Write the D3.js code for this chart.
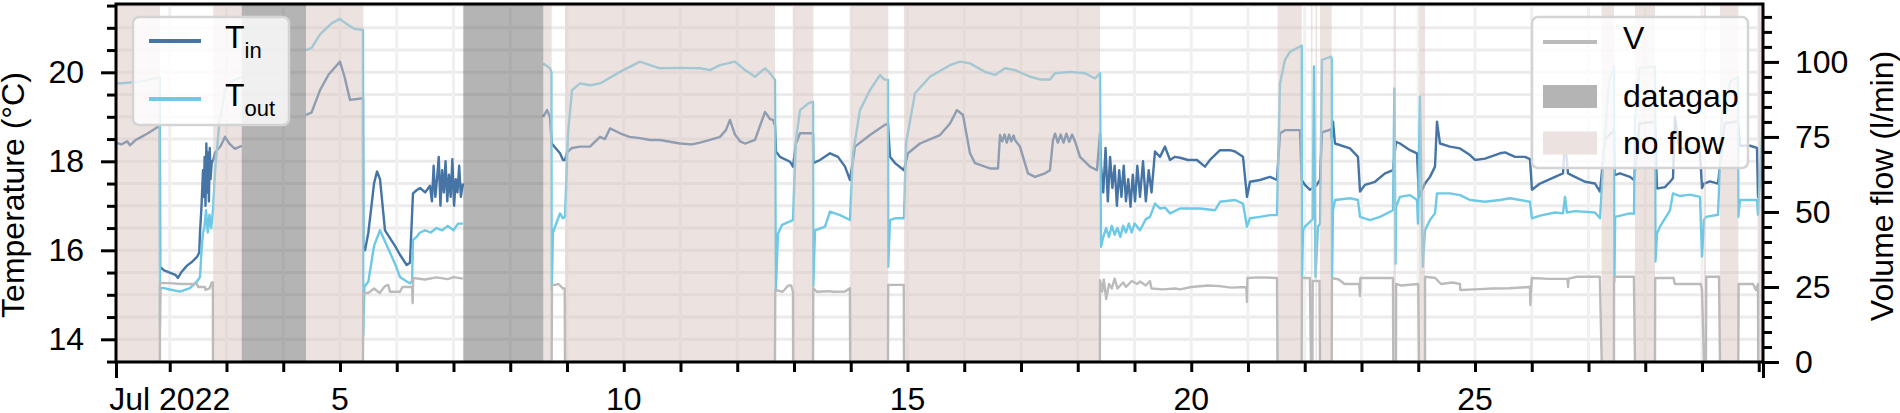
<!DOCTYPE html>
<html>
<head>
<meta charset="utf-8">
<script src="https://cdn.jsdelivr.net/npm/d3@7"></script>
<style>
  body { margin: 0; background: #fff; }
  svg { display: block; font-family: "Liberation Sans", Arial, Helvetica, sans-serif; }
</style>
</head>
<body>
<svg id="chart" width="1900" height="413"></svg>
<script>
// series: [day of July 2022 (decimal), value]; null = no data
const tInData = [
  [1.053,18.42],[1.15,18.38],[1.25,18.45],[1.3,18.36],[1.4,18.48],[1.5,18.55],[1.6,18.62],[1.7,18.7],[1.8,18.78],[1.825,18.82],
  [1.83,15.63],[1.9,15.55],[2.0,15.5],[2.1,15.45],[2.145,15.38],[2.2,15.5],[2.3,15.65],[2.4,15.75],[2.48,15.85],[2.52,15.95],
  [2.533,16.4],[2.56,17.0],[2.586,17.8],[2.6,17.2],[2.615,18.1],[2.63,17.0],[2.645,18.4],[2.66,17.3],[2.675,18.2],[2.69,17.1],[2.705,18.3],[2.72,17.6],[2.74,18.0],[2.762,18.0],
  [2.8,18.2],[2.9,18.35],[2.974,18.55],[3.05,18.4],[3.15,18.28],[3.268,18.35],
  [3.3,null],
  [4.401,19.04],[4.5,19.1],[4.648,19.6],[4.8,19.95],[5.0,20.24],[5.08,19.9],[5.176,19.38],[5.3,19.4],[5.405,19.42],
  [5.41,16.08],[5.441,16.0],[5.5,16.4],[5.6,17.5],[5.652,17.77],[5.705,17.6],[5.793,16.45],[5.969,16.1],[6.057,15.9],[6.175,15.67],[6.233,15.72],
  [6.286,17.28],[6.35,17.35],[6.41,17.4],[6.5,17.3],
  [6.586,17.45],[6.62,17.1],[6.65,17.9],[6.68,17.2],[6.71,17.6],[6.74,18.1],[6.77,17.0],[6.8,17.8],[6.83,17.3],[6.86,18.0],[6.89,17.1],[6.92,17.7],[6.95,17.2],[6.98,18.05],[7.01,17.0],[7.04,17.6],[7.07,17.3],[7.1,17.9],[7.13,17.2],[7.167,17.5],
  [7.2,null],
  [8.582,19.0],[8.648,19.15],[8.7,19.0],[8.73,18.4],[8.877,18.18],[8.93,18.03],[8.965,18.03],[9.0,18.2],[9.088,18.3],[9.229,18.33],[9.405,18.33],[9.581,18.55],[9.67,18.5],[9.758,18.74],[9.934,18.63],
  [10.1,18.55],[10.286,18.52],[10.463,18.48],[10.639,18.48],[10.991,18.4],[11.2,18.38],[11.344,18.42],[11.52,18.48],[11.696,18.55],[11.8,18.7],[11.872,18.93],[11.96,18.6],[12.05,18.45],[12.137,18.4],[12.313,18.48],[12.489,19.11],[12.577,18.95],[12.63,18.93],[12.665,18.8],
  [12.683,18.22],[12.753,18.1],[12.93,17.99],[12.982,17.88],
  [13.035,18.4],[13.106,18.63],[13.335,18.63],
  [13.34,17.96],[13.458,18.03],[13.634,18.18],[13.775,18.1],[13.899,17.88],[13.987,17.58],
  [14.075,18.33],[14.339,18.59],[14.604,18.82],[14.656,18.85],
  [14.692,18.1],[14.78,17.96],[14.938,17.8],
  [15.009,18.18],[15.22,18.4],[15.573,18.59],[15.749,18.85],[15.872,19.15],[15.978,19.04],[16.101,18.18],[16.189,17.96],[16.454,17.84],[16.595,17.84],
  [16.63,18.59],[16.67,18.45],[16.71,18.6],[16.75,18.42],[16.79,18.6],[16.83,18.45],[16.87,18.58],[16.894,18.48],[16.982,18.33],[17.123,17.73],[17.247,17.65],[17.423,17.73],[17.511,17.8],
  [17.564,18.48],[17.6,18.62],[17.65,18.42],[17.7,18.6],[17.75,18.42],[17.8,18.62],[17.85,18.44],[17.9,18.6],[17.952,18.45],[18.04,18.1],[18.216,17.88],[18.339,17.8],[18.392,18.63],
  [18.41,17.9],[18.45,17.3],[18.49,18.3],[18.53,17.1],[18.57,18.1],[18.61,17.4],[18.65,17.9],[18.69,17.0],[18.73,17.8],[18.77,17.2],[18.81,17.9],[18.85,17.1],[18.89,17.6],[18.93,16.98],[18.97,17.7],[19.01,17.1],[19.05,17.9],[19.097,17.2],[19.15,18.0],[19.2,17.1],[19.25,17.8],[19.3,17.3],
  [19.361,18.22],[19.449,18.1],[19.537,18.33],[19.626,18.03],[19.714,18.1],[19.802,18.08],[19.943,18.03],[20.101,18.03],[20.242,17.88],[20.33,18.03],[20.507,18.25],[20.683,18.25],[20.771,18.22],[20.912,18.1],
  [20.982,17.2],[21.035,17.54],[21.211,17.58],[21.388,17.65],[21.511,17.58],
  [21.564,18.63],[21.652,18.7],[21.916,18.7],[21.946,17.58],[22.004,17.47],[22.093,17.36],[22.2,17.45],[22.269,17.58],[22.304,18.65],[22.463,18.72],[22.475,18.5],[22.498,18.89],[22.533,18.4],[22.797,18.29],[22.938,18.1],
  [22.974,17.32],[23.062,17.47],[23.238,17.54],[23.414,17.73],[23.555,17.8],[23.608,18.44],[23.678,18.4],[23.855,18.25],[23.978,18.18],[24.013,17.2],[24.119,17.5],[24.207,17.65],[24.295,17.88],
  [24.33,18.89],[24.383,18.4],[24.559,18.33],[24.736,18.29],[24.912,18.14],[25.0,18.03],[25.176,18.06],[25.441,18.18],[25.529,18.2],[25.705,18.1],[25.881,18.1],[25.969,18.05],
  [26.004,17.36],[26.145,17.5],[26.41,17.65],[26.551,17.73],[26.586,18.48],[26.639,17.73],[26.762,17.65],[26.938,17.54],[27.115,17.5],[27.203,17.32],
  [27.291,18.5],[27.449,18.7],[27.46,17.69],[27.555,17.73],[27.731,17.65],[27.802,17.58],[27.9,18.85],[28.172,18.89],
  [28.207,17.39],[28.348,17.42],[28.436,17.54],[28.489,17.62],[28.524,19.0],[28.6,18.3],[28.789,18.25],[28.965,18.2],[29.0,17.4],[29.035,17.5],[29.141,17.55],[29.282,17.5],
  [29.4,18.85],[29.634,18.9],[29.67,18.35],[29.846,18.35],[29.969,18.3],[29.987,17.2],[30.075,18.0]
];

const tOutData = [
  [1.053,19.75],[1.2,19.76],[1.4,19.78],[1.6,19.82],[1.74,19.87],[1.825,19.88],
  [1.828,14.3],[1.835,15.15],[1.9,15.15],[2.0,15.12],[2.181,15.07],[2.357,15.15],[2.48,15.3],[2.533,15.4],[2.56,16.0],[2.586,16.4],[2.61,16.5],[2.64,16.9],[2.67,16.4],[2.7,16.8],[2.73,16.5],[2.762,16.9],
  [2.8,17.8],[2.87,18.8],[2.974,19.6],[3.1,19.8],[3.268,19.9],
  [3.3,null],
  [4.401,20.5],[4.5,20.55],[4.648,20.85],[4.85,21.1],[5.0,21.2],[5.1,21.1],[5.25,20.98],[5.405,20.95],
  [5.41,14.1],[5.43,15.18],[5.5,15.3],[5.6,16.1],[5.705,16.45],[5.793,16.2],[5.969,15.7],[6.057,15.4],[6.175,15.3],[6.233,15.26],[6.27,15.3],
  [6.286,16.23],[6.35,16.3],[6.41,16.4],[6.5,16.45],[6.6,16.4],[6.7,16.5],[6.8,16.45],[6.9,16.55],[7.0,16.45],[7.08,16.6],[7.167,16.6],
  [7.2,null],
  [8.582,20.2],[8.7,20.09],[8.725,20.0],[8.73,15.1],[8.753,16.4],[8.877,16.83],[8.93,16.72],[8.965,16.75],[9.018,18.63],[9.088,19.6],[9.229,19.75],[9.405,19.71],[9.581,19.75],[9.934,20.01],
  [10.286,20.24],[10.463,20.16],[10.639,20.09],[10.991,20.1],[11.344,20.09],[11.52,20.05],[11.696,20.16],[11.96,20.24],[12.137,20.05],[12.313,19.9],[12.489,20.09],[12.577,19.98],[12.665,19.83],
  [12.68,15.1],[12.718,16.38],[12.789,16.57],[12.982,16.68],
  [13.035,18.48],[13.106,19.15],[13.25,19.3],[13.335,19.34],
  [13.34,15.2],[13.37,16.45],[13.546,16.53],[13.634,16.87],[13.811,16.79],[13.987,16.68],
  [14.04,18.18],[14.163,19.15],[14.339,19.6],[14.515,19.94],[14.586,19.84],[14.656,19.83],
  [14.66,15.63],[14.692,16.68],[14.78,16.72],[14.938,16.72],
  [14.974,18.4],[15.132,19.53],[15.396,19.9],[15.749,20.16],[15.925,20.24],[16.101,20.2],[16.366,20.01],[16.542,19.94],[16.718,20.09],[16.894,20.05],[17.159,19.9],[17.335,19.84],[17.511,19.84],[17.599,19.98],[17.863,20.01],[18.128,19.98],[18.304,19.86],[18.392,19.98],
  [18.41,16.08],[18.45,16.3],[18.5,16.5],[18.55,16.3],[18.6,16.55],[18.65,16.35],[18.7,16.5],[18.75,16.3],[18.8,16.55],[18.85,16.4],[18.9,16.6],[18.95,16.4],[19.0,16.6],[19.097,16.45],[19.2,16.7],[19.273,16.75],
  [19.361,17.05],[19.449,16.94],[19.537,16.96],[19.626,16.83],[19.802,16.94],[20.154,16.94],[20.419,16.9],[20.507,17.09],[20.771,17.13],[20.912,17.05],
  [20.982,16.53],[21.035,16.72],[21.211,16.75],[21.388,16.79],[21.511,16.79],
  [21.564,19.75],[21.652,20.28],[21.74,20.46],[21.916,20.58],[21.946,20.6],[21.95,15.4],[21.97,16.45],[22.004,16.53],[22.093,16.64],[22.14,16.7],[22.163,20.13],[22.19,15.4],[22.233,16.53],[22.269,16.6],
  [22.304,20.28],[22.463,20.35],[22.475,20.3],[22.48,15.4],[22.498,16.9],[22.533,17.13],[22.797,17.17],[22.938,17.13],
  [22.974,16.75],[23.15,16.68],[23.326,16.75],[23.555,16.9],[23.58,19.64],[23.6,15.7],[23.608,16.98],[23.678,17.2],[23.855,17.24],[23.978,17.13],[23.996,16.6],[24.03,19.45],[24.08,15.63],
  [24.119,16.45],[24.207,16.68],[24.295,16.83],[24.33,17.28],[24.559,17.28],[24.736,17.24],[24.912,17.13],[25.176,17.09],[25.441,17.13],[25.617,17.17],[25.969,17.09],
  [26.004,16.72],[26.145,16.78],[26.41,16.85],[26.551,16.83],[26.586,17.2],[26.62,16.85],[26.762,16.88],[27.115,16.85],[27.203,16.72],
  [27.291,18.6],[27.36,19.8],[27.449,20.13],[27.455,15.3],[27.47,16.75],[27.731,16.83],[27.802,16.82],
  [27.819,18.9],[27.9,20.1],[28.172,20.13],[28.18,15.75],[28.207,16.38],[28.26,16.53],[28.436,16.9],[28.489,17.28],[28.612,17.22],[28.789,17.25],[28.965,17.2],
  [29.0,15.86],[29.035,16.68],[29.07,16.75],[29.282,16.8],[29.35,19.0],[29.5,19.8],[29.634,19.9],[29.64,16.75],[29.67,17.13],[29.846,17.13],[29.969,17.13],[29.987,16.8],[30.075,19.0]
];

const flowData = [
  [1.053,0],[1.826,0],[1.828,26.3],[2.0,26.3],[2.2,26.0],[2.48,26.0],[2.5,25.0],[2.62,25.0],[2.63,24.0],[2.7,24.5],[2.74,26.5],[2.76,26.5],[2.762,0],[3.268,0],
  [3.3,null],
  [4.401,0],[5.405,0],[5.41,23.0],[5.5,23.0],[5.6,24.5],[5.7,23.0],[5.793,25.3],[5.85,25.7],[5.88,23.4],[6.057,23.4],[6.1,25.0],[6.27,25.0],[6.28,19.6],[6.29,28.0],[6.5,27.5],[6.7,28.2],[6.9,27.6],[7.0,28.3],[7.167,27.8],
  [7.2,null],
  [8.582,0],[8.73,0],[8.735,25.7],[8.8,25.7],[8.85,26.0],[8.93,24.5],[8.96,24.5],[8.965,0],[12.665,0],
  [12.67,24.0],[12.8,23.4],[12.9,25.5],[12.95,25.5],[12.982,23.4],[12.985,0],[13.335,0],
  [13.34,24.6],[13.4,23.4],[13.6,23.6],[13.7,23.4],[13.9,23.5],[13.985,24.6],[13.99,0],[14.656,0],
  [14.66,25.7],[14.935,25.7],[14.938,0],[18.39,0],
  [18.392,27.3],[18.43,23.5],[18.46,27.5],[18.5,21.0],[18.55,26.0],[18.6,24.5],[18.65,27.8],[18.7,24.5],[18.8,26.5],[18.85,25.0],[18.95,27.0],[19.05,26.0],[19.097,26.8],[19.2,25.5],[19.273,27.0],[19.3,24.5],
  [19.5,24.2],[19.714,24.5],[19.802,24.2],[20.0,25.0],[20.3,25.5],[20.5,25.3],[20.7,24.8],[20.97,25.0],[20.982,20.0],[20.99,28.0],[21.2,28.2],[21.511,28.0],[21.52,0],[21.946,0],
  [21.95,28.0],[22.09,28.0],[22.11,0],[22.136,0],[22.14,27.0],[22.26,27.0],[22.269,0],[22.475,0],
  [22.48,28.0],[22.6,27.5],[22.7,26.0],[22.96,26.0],[22.974,22.0],[22.98,28.0],[23.555,28.0],[23.56,0],[23.608,0],
  [23.61,26.0],[23.7,25.5],[24.0,26.0],[24.013,0],[24.119,0],
  [24.12,28.4],[24.3,28.0],[24.4,26.0],[24.6,26.5],[24.736,26.0],[24.74,24.0],[25.0,24.2],[25.3,24.5],[25.6,24.6],[25.969,25.0],[25.975,19.0],[26.0,28.0],[26.3,27.7],[26.63,27.7],[26.64,25.0],[26.65,27.8],[26.8,28.4],[27.2,28.4],[27.233,0],[27.449,0],
  [27.45,28.4],[27.8,28.4],[27.819,0],[28.172,0],
  [28.175,28.0],[28.5,28.0],[28.52,26.0],[28.98,26.0],[29.0,24.0],[29.035,0],[29.07,0],
  [29.075,28.4],[29.3,28.4],[29.317,0],[29.64,0],[29.645,26.0],[29.9,26.0],[29.95,24.0],[29.987,26.0],[29.99,0],[30.075,0]
];

// shaded periods [start day, end day]
const noFlowSpans = [
  [1.053,1.828],[2.767,3.268],[4.401,5.411],[8.582,8.73],[8.965,12.665],[12.988,13.341],[13.999,14.662],[14.938,18.392],
  [21.523,21.946],[22.11,22.136],[22.189,22.216],[22.269,22.475],[23.564,23.608],[24.019,24.119],
  [27.232,27.449],[27.819,28.172],[29.035,29.07],[29.317,29.64],[29.991,30.075]
];
const dataGapSpans = [[3.268,4.401],[7.173,8.582]];

const tempTicks = [14, 16, 18, 20];
const flowTicks = [0, 25, 50, 75, 100];
const dayLabelDays = [2, 5, 10, 15, 20, 25];
const dayLabels = ["Jul 2022", "5", "10", "15", "20", "25"];

const tempLegend = [{ name: "T", sub: "in", color: "#4574a5" }, { name: "T", sub: "out", color: "#6dc9e6" }];
const flowLegend = [{ name: "V", kind: "line" }, { name: "datagap", kind: "gap" }, { name: "no flow", kind: "noflow" }];

// --- layout ---
const pL = 116, pR = 1763, pT = 4, pB = 362;
const colIn = "#4574a5", colOut = "#6dc9e6", colV = "#bbbbbb";
const DAY0 = new Date(2022, 6, 1).getTime();
const toDate = d => new Date(DAY0 + (d - 1) * 864e5);

const svg = d3.select("#chart");

const x = d3.scaleTime().domain([toDate(1.053), toDate(30.075)]).range([pL, pR]);
const yT = d3.scaleLinear().domain([13.49, 21.535]).range([pB, pT]);
const yV = d3.scaleLinear().domain([0, 119.3]).range([pB, pT]);

svg.append("defs").append("clipPath").attr("id", "plot")
  .append("rect").attr("x", pL).attr("y", pT).attr("width", pR - pL).attr("height", pB - pT);

// grid
const grid = svg.append("g").attr("clip-path", "url(#plot)");
grid.selectAll(".hg").data(d3.range(13.5, 21.6, 0.5)).enter().append("line")
  .attr("x1", pL).attr("x2", pR)
  .attr("y1", d => yT(d)).attr("y2", d => yT(d))
  .attr("stroke", "#ebebeb").attr("stroke-width", 3);
const dayTicks = d3.timeDay.range(toDate(2), toDate(30.5));
grid.selectAll(".vg").data(dayTicks).enter().append("line")
  .attr("x1", d => x(d)).attr("x2", d => x(d))
  .attr("y1", pT).attr("y2", pB)
  .attr("stroke", "#f0f0f0").attr("stroke-width", 3);

// temperature lines
const plot = svg.append("g").attr("clip-path", "url(#plot)");
const lineT = d3.line().defined(d => d[1] !== null).x(d => x(toDate(d[0]))).y(d => yT(d[1]));
plot.append("path").datum(tInData).attr("d", lineT)
  .attr("fill", "none").attr("stroke", colIn).attr("stroke-width", 2.4).attr("stroke-linejoin", "round");
plot.append("path").datum(tOutData).attr("d", lineT)
  .attr("fill", "none").attr("stroke", colOut).attr("stroke-width", 2.4).attr("stroke-linejoin", "round");

// shading on top
plot.selectAll(".nf").data(noFlowSpans).enter().append("rect")
  .attr("x", d => x(toDate(d[0]))).attr("width", d => x(toDate(d[1])) - x(toDate(d[0])))
  .attr("y", pT).attr("height", pB - pT)
  .attr("fill", "#d9c6bf").attr("fill-opacity", 0.5);
plot.selectAll(".dg").data(dataGapSpans).enter().append("rect")
  .attr("x", d => x(toDate(d[0]))).attr("width", d => x(toDate(d[1])) - x(toDate(d[0])))
  .attr("y", pT).attr("height", pB - pT)
  .attr("fill", "#6a6a6a").attr("fill-opacity", 0.5);

// volume flow on twin axis
const lineV = d3.line().defined(d => d[1] !== null).x(d => x(toDate(d[0]))).y(d => yV(d[1]));
plot.append("path").datum(flowData).attr("d", lineV)
  .attr("fill", "none").attr("stroke", colV).attr("stroke-width", 2.4).attr("stroke-linejoin", "round");

// axes
function styleAxis(g) {
  g.select(".domain").remove();
  g.selectAll(".tick line").attr("stroke", "#000").attr("stroke-width", 3);
  g.selectAll(".tick text").attr("fill", "#000").style("font-size", "32px");
}
svg.append("g").attr("transform", `translate(${pL},0)`)
  .call(d3.axisLeft(yT).tickValues(tempTicks).tickSize(15).tickPadding(17))
  .call(styleAxis);
svg.append("g").attr("transform", `translate(${pL},0)`)
  .call(d3.axisLeft(yT).tickValues(d3.range(13.5, 21.6, 0.5).filter(v => v % 2 !== 0)).tickSize(9).tickFormat(""))
  .call(styleAxis);
svg.append("g").attr("transform", `translate(${pR},0)`)
  .call(d3.axisRight(yV).tickValues(flowTicks).tickSize(16).tickPadding(16))
  .call(styleAxis);
svg.append("g").attr("transform", `translate(${pR},0)`)
  .call(d3.axisRight(yV).tickValues(d3.range(5, 119, 5).filter(v => v % 25 !== 0)).tickSize(9).tickFormat(""))
  .call(styleAxis);
svg.append("g").attr("transform", `translate(0,${pB})`)
  .call(d3.axisBottom(x).tickValues(dayTicks).tickSize(10).tickFormat(""))
  .call(styleAxis);
svg.append("g").attr("transform", `translate(0,${pB})`)
  .call(d3.axisBottom(x).tickValues(x.domain()).tickSize(16).tickFormat(""))
  .call(styleAxis);
svg.append("g").selectAll("text").data(dayLabelDays).enter().append("text")
  .attr("x", d => x(toDate(d))).attr("y", 410)
  .attr("text-anchor", "middle").style("font-size", "32px")
  .text((d, i) => dayLabels[i]);

// spines
svg.append("rect").attr("x", pL).attr("y", pT).attr("width", pR - pL).attr("height", pB - pT)
  .attr("fill", "none").attr("stroke", "#000").attr("stroke-width", 3);

// axis titles
svg.append("text").attr("transform", "translate(24,195) rotate(-90)")
  .attr("text-anchor", "middle").style("font-size", "32px").text("Temperature (°C)");
svg.append("text").attr("transform", "translate(1893,186) rotate(-90)")
  .attr("text-anchor", "middle").style("font-size", "32px").text("Volume flow (l/min)");

// legend: temperatures
const lg1 = svg.append("g");
lg1.append("rect").attr("x", 133).attr("y", 17).attr("width", 156).attr("height", 108).attr("rx", 6)
  .attr("fill", "#fff").attr("fill-opacity", 0.8).attr("stroke", "#d4d4d4").attr("stroke-width", 2.5);
tempLegend.forEach((e, i) => {
  const cy = 41 + i * 58;
  lg1.append("line").attr("x1", 149).attr("x2", 201).attr("y1", cy).attr("y2", cy)
    .attr("stroke", e.color).attr("stroke-width", 4);
  const t = lg1.append("text").attr("x", 225).attr("y", cy + 7).style("font-size", "32px");
  t.append("tspan").text(e.name);
  t.append("tspan").attr("dy", 10).style("font-size", "22px").text(e.sub);
});

// legend: flow
const lg2 = svg.append("g");
lg2.append("rect").attr("x", 1532).attr("y", 17).attr("width", 216).attr("height", 151).attr("rx", 6)
  .attr("fill", "#fff").attr("fill-opacity", 0.8).attr("stroke", "#d4d4d4").attr("stroke-width", 2.5);
const rowY = [42, 96.5, 143];
const baseY = [49, 107, 154];
flowLegend.forEach((e, i) => {
  if (e.kind === "line") {
    lg2.append("line").attr("x1", 1543).attr("x2", 1597).attr("y1", rowY[i]).attr("y2", rowY[i])
      .attr("stroke", colV).attr("stroke-width", 4);
  } else {
    lg2.append("rect").attr("x", 1543).attr("y", rowY[i] - 11.5).attr("width", 54).attr("height", 23)
      .attr("fill", e.kind === "gap" ? "#b4b4b4" : "#ece2df");
  }
  lg2.append("text").attr("x", 1623).attr("y", baseY[i]).style("font-size", "32px").text(e.name);
});
</script>
</body>
</html>
